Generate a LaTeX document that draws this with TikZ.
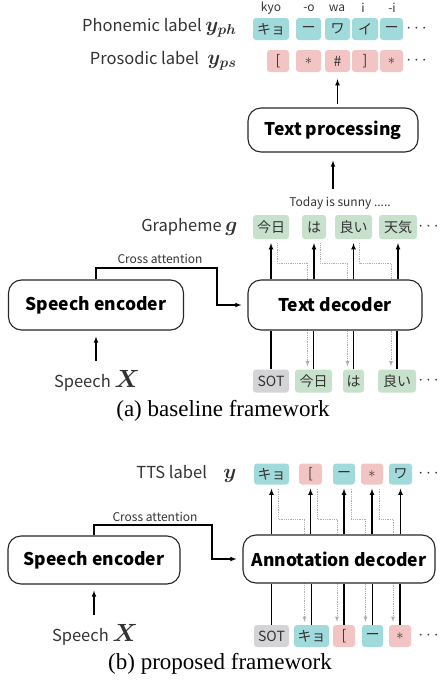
\documentclass[tikz,border=0pt]{standalone}
\usepackage{amsmath}
\usepackage{bm}
\usepackage{fontspec}
\setmainfont{Liberation Serif}
\setsansfont{Noto Sans CJK JP}
\usepackage{tikz}
\usetikzlibrary{positioning,calc}

\definecolor{phcol}{RGB}{160,218,219}
\definecolor{pscol}{RGB}{243,196,196}
\definecolor{grcol}{RGB}{200,225,205}
\definecolor{sotcol}{RGB}{212,212,215}
\newcommand{\bigsym}[1]{{\fontsize{21}{21}\selectfont$\bm{#1}$}}

\begin{document}
\begin{tikzpicture}[x=1pt,y=-1pt]
 	\tikzstyle{block}=[rectangle, rounded corners=13pt, draw=black!85, line width=1.1pt, fill=white, font=\sffamily\bfseries\fontsize{17.5}{17.5}\selectfont]
 	\tikzstyle{tok}=[rectangle, rounded corners=3pt, inner sep=0pt, minimum height=22pt, text=black!80, font=\sffamily\fontsize{14}{14}\selectfont]
 	\tikzstyle{txt}=[text=black!80, font=\sffamily\fontsize{16.5}{16.5}\selectfont]
 	\tikzstyle{smalltxt}=[text=black!80, font=\sffamily\fontsize{12}{12}\selectfont]
 	\tikzstyle{captxt}=[font=\fontsize{23}{23}\selectfont]
 	\tikzstyle{connect}=[-latex, line width=1.1pt]
 	\tikzstyle{wire}=[line width=1.1pt]
 	\tikzstyle{dotline}=[-latex, densely dotted, gray!65, line width=0.8pt]
 	\useasboundingbox (0,0) rectangle (440,688);
 	% (a) baseline
 	\node[tok, fill=phcol, minimum width=36pt] (h1) at (271,29) {キョ};
 	\node[tok, fill=phcol, minimum width=25pt] (h2) at (308.5,29) {ー};
 	\node[tok, fill=phcol, minimum width=25pt] (h3) at (337.5,29) {ワ};
 	\node[tok, fill=phcol, minimum width=26pt] (h4) at (365,29) {イ};
 	\node[tok, fill=phcol, minimum width=23pt] (h5) at (391.5,29) {ー};
 	\node[txt] (hdots) at (418,29) {$\cdots$};
 	\node[smalltxt] (r1) at (271,8) {kyo};
 	\node[smalltxt] (r2) at (309,8) {-o};
 	\node[smalltxt] (r3) at (337,8) {wa};
 	\node[smalltxt] (r4) at (363,8) {i};
 	\node[smalltxt] (r5) at (392,8) {-i};
 	\node[txt, anchor=east] (hlab) at (240,28) {Phonemic label \bigsym{y_{ph}}};
 	\node[tok, fill=pscol, minimum width=22pt] (s1) at (278,61) {[};
 	\node[tok, fill=pscol, minimum width=25pt] (s2) at (308.5,61) {$\ast$};
 	\node[tok, fill=pscol, minimum width=25pt] (s3) at (337.5,61) {\#};
 	\node[tok, fill=pscol, minimum width=26pt] (s4) at (365,61) {]};
 	\node[tok, fill=pscol, minimum width=23pt] (s5) at (391.5,61) {$\ast$};
 	\node[txt] (sdots) at (418,61) {$\cdots$};
 	\node[txt, anchor=east] (slab) at (240,61) {Prosodic label\; \bigsym{y_{ps}}};
 	\node[block, minimum width=170pt, minimum height=44pt] (proc) at (333,130) {Text processing};
 	\node[smalltxt] (today) at (340,203) {Today is sunny .....};
 	\node[tok, fill=grcol, minimum width=36pt, minimum height=24pt] (g1) at (271,227) {今日};
 	\node[tok, fill=grcol, minimum width=24pt, minimum height=24pt] (g2) at (314,227) {は};
 	\node[tok, fill=grcol, minimum width=37pt, minimum height=24pt] (g3) at (353.5,227) {良い};
 	\node[tok, fill=grcol, minimum width=38pt, minimum height=24pt] (g4) at (398,227) {天気};
 	\node[txt] (gdots) at (430,227) {$\cdots$};
 	\node[txt, anchor=east] (glab) at (241,227) {Grapheme \bigsym{g}};
 	\node[tok, fill=sotcol, minimum width=36pt, minimum height=23pt] (a0) at (271,381) {SOT};
 	\node[tok, fill=grcol, minimum width=37pt, minimum height=23pt] (a1) at (313.5,381) {今日};
 	\node[tok, fill=grcol, minimum width=21pt, minimum height=23pt] (a2) at (353.5,381) {は};
 	\node[tok, fill=grcol, minimum width=38pt, minimum height=23pt] (a3) at (397,381) {良い};
 	\node[txt] (adots) at (430,381) {$\cdots$};
 	\coordinate (ta) at (0,263);
 	\foreach \i/\j in {1/1,2/2,3/3}
 		\draw[dotline, shorten <=4pt, shorten >=3pt] ($(g\i.south)+(6,0)$) |- ($(a\j.north |- ta)+(-6,0)$) -- ($(a\j.north)+(-6,0)$);
 	\node[block, minimum width=175pt, minimum height=50pt] (enca) at (96,305) {Speech encoder};
 	\node[block, minimum width=174pt, minimum height=50pt] (deca) at (335,305) {Text decoder};
 	\node[txt] (spa) at (97,381) {Speech {\fontsize{24}{24}\selectfont$\bm{X}$}};
 	\node[captxt] (capa) at (223,411) {(a) baseline framework};
 	\coordinate (xa) at (217,268);
 	\node[smalltxt] (xla) at (160,259) {Cross attention};
 	\draw[connect, shorten >=6pt] (enca.north) |- (xa) |- (deca.west);
 	\draw[connect, shorten <=6pt, shorten >=6pt] (spa.north -| enca.south) -- (enca.south);
 	\draw[connect, shorten <=3pt, shorten >=7pt] (proc.north -| s3.south) -- (s3.south);
 	\draw[connect, shorten <=4pt, shorten >=8pt] (today.north -| proc.south) -- (proc.south);
 	\foreach \i/\j in {0/1,1/2,2/3,3/4} {
 		\draw[wire] (a\i.north) -- (a\i.north |- deca.south);
 		\draw[connect, shorten >=4pt] (g\j.south |- deca.north) -- (g\j.south);
 	}
 	% (b) proposed
 	\node[tok, fill=phcol, minimum width=35pt, minimum height=21pt] (o1) at (271.5,474) {キョ};
 	\node[tok, fill=pscol, minimum width=23pt, minimum height=21pt] (o2) at (310.5,474) {[};
 	\node[tok, fill=phcol, minimum width=22pt, minimum height=21pt] (o3) at (344,474) {ー};
 	\node[tok, fill=pscol, minimum width=22pt, minimum height=21pt] (o4) at (372,474) {$\ast$};
 	\node[tok, fill=phcol, minimum width=23pt, minimum height=21pt] (o5) at (400.5,474) {ワ};
 	\node[txt] (odots) at (430,474) {$\cdots$};
 	\node[txt, anchor=east] (olab) at (240,474) {TTS label\quad\bigsym{y}};
 	\node[tok, fill=sotcol, minimum width=35pt] (b0) at (271.5,636) {SOT};
 	\node[tok, fill=phcol, minimum width=35pt] (b1) at (311.5,636) {キョ};
 	\node[tok, fill=pscol, minimum width=22pt] (b2) at (344,636) {[};
 	\node[tok, fill=phcol, minimum width=21pt] (b3) at (372.5,636) {ー};
 	\node[tok, fill=pscol, minimum width=22pt] (b4) at (400,636) {$\ast$};
 	\node[txt] (bdots) at (430,636) {$\cdots$};
 	\coordinate (tb) at (0,519);
 	\foreach \i in {1,2,3,4}
 		\draw[dotline, shorten <=4pt, shorten >=3pt] ($(o\i.south)+(7,0)$) |- ($(b\i.north |- tb)+(-7,0)$) -- ($(b\i.north)+(-7,0)$);
 	\node[block, minimum width=172pt, minimum height=48pt] (encb) at (94,560) {Speech encoder};
 	\node[block, minimum width=192pt, minimum height=48pt] (decb) at (339,559) {Annotation decoder};
 	\node[txt] (spb) at (95,635) {Speech {\fontsize{24}{24}\selectfont$\bm{X}$}};
 	\node[captxt] (capb) at (220,664) {(b) proposed framework};
 	\coordinate (xb) at (212,525);
 	\node[smalltxt] (xlb) at (155,517) {Cross attention};
 	\draw[connect, shorten >=6pt] (encb.north) |- (xb) |- (decb.west);
 	\draw[connect, shorten <=6pt, shorten >=6pt] (spb.north -| encb.south) -- (encb.south);
 	\foreach \i/\j in {0/1,1/2,2/3,3/4,4/5} {
 		\draw[wire] (b\i.north) -- (b\i.north |- decb.south);
 		\draw[connect, shorten >=4pt] (o\j.south |- decb.north) -- (o\j.south);
 	}
\end{tikzpicture}
\end{document}
